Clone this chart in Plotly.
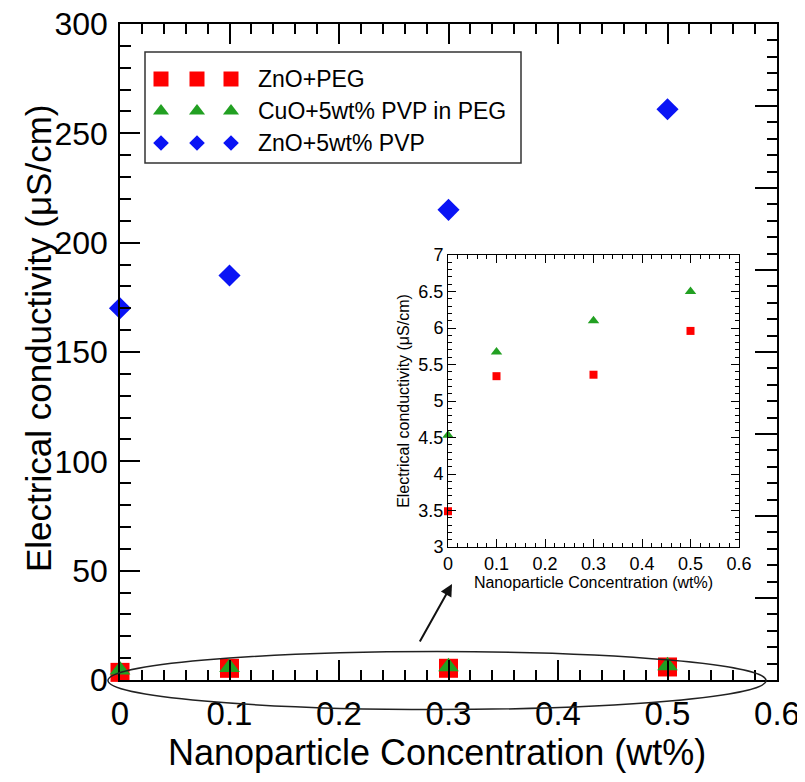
import plotly.graph_objects as go

# ---------------- data ----------------
conc = [0, 0.1, 0.3, 0.5]
zno_peg = [3.49, 5.34, 5.36, 5.96]
cuo_pvp_peg = [4.53, 5.67, 6.10, 6.50]
zno_pvp_conc = [0, 0.1, 0.3, 0.5]
zno_pvp = [170, 185, 215, 261]

series_names = ["ZnO+PEG", "CuO+5wt% PVP in PEG", "ZnO+5wt% PVP"]

main_x_ticks = [0, 0.1, 0.2, 0.3, 0.4, 0.5, 0.6]
main_y_ticks = [0, 50, 100, 150, 200, 250, 300]

# ---------------- styles / geometry ----------------
RED = "#ff0000"
GREEN = "#22a022"
BLUE = "#0a14f5"
FONT = "Liberation Sans, Arial, sans-serif"

OFF = 8  # page body margin in the browser
W_FIG, H_FIG = 797, 766
L, T, PW, PH = 120, 24, 657, 656  # plot area in screen pixels


def paper(px, py):
    return (px - L) / PW, (T + PH - py) / PH


XR = [0, 0.6]
YR = [0, 300]

fig = go.Figure()

# main plot markers
fig.add_trace(go.Scatter(x=conc, y=zno_peg, mode="markers", name=series_names[0],
                         marker=dict(symbol="square", size=19, color=RED),
                         cliponaxis=False, showlegend=False))
fig.add_trace(go.Scatter(x=conc, y=cuo_pvp_peg, mode="markers", name=series_names[1],
                         marker=dict(symbol="triangle-up", size=18, color=GREEN),
                         cliponaxis=False, showlegend=False))
fig.add_trace(go.Scatter(x=zno_pvp_conc, y=zno_pvp, mode="markers", name=series_names[2],
                         marker=dict(symbol="diamond", size=17, color=BLUE),
                         cliponaxis=False, showlegend=False))
# dummy for right axis
fig.add_trace(go.Scatter(x=[], y=[], yaxis="y2", showlegend=False))

# inset
fig.add_trace(go.Scatter(x=conc, y=zno_peg, mode="markers", xaxis="x3", yaxis="y3",
                         marker=dict(symbol="square", size=8, color=RED),
                         cliponaxis=False, showlegend=False))
fig.add_trace(go.Scatter(x=conc, y=cuo_pvp_peg, mode="markers", xaxis="x3", yaxis="y3",
                         marker=dict(symbol="triangle-up", size=10, color=GREEN),
                         cliponaxis=False, showlegend=False))

# custom legend (three symbols per entry) on an overlay axis spanning the paper
leg_rows_py = [79, 111, 143]
leg_cols_px = [161, 197, 231]
leg_symbols = [("square", 15, RED), ("triangle-up", 14, GREEN), ("diamond", 12, BLUE)]
for (sym, sz, col), py in zip(leg_symbols, leg_rows_py):
    xs = [paper(px, py)[0] for px in leg_cols_px]
    ys = [paper(px, py)[1] for px in leg_cols_px]
    fig.add_trace(go.Scatter(x=xs, y=ys, mode="markers", xaxis="x4", yaxis="y4",
                             marker=dict(symbol=sym, size=sz, color=col),
                             cliponaxis=False, showlegend=False, hoverinfo="skip"))

annotations = []
for name, py in zip(series_names, leg_rows_py):
    xp, yp = paper(256, py)
    annotations.append(dict(x=xp, y=yp, xref="paper", yref="paper", text=name,
                            showarrow=False, xanchor="left", yanchor="middle",
                            font=dict(family=FONT, size=23, color="black")))

# legend box
bx0, by0 = paper(145, 163)
bx1, by1 = paper(521, 52)
shapes = [dict(type="rect", xref="paper", yref="paper", x0=bx0, y0=by0, x1=bx1, y1=by1,
               line=dict(color="#333333", width=1.5), layer="above")]

# ellipse around the low values (defined in data units, drawn in domain coords)
ell_x = [-0.011, 0.59]
ell_y = [-13.5, 13]
shapes.append(dict(type="circle", xref="x domain", yref="y domain",
                   x0=(ell_x[0] - XR[0]) / (XR[1] - XR[0]),
                   x1=(ell_x[1] - XR[0]) / (XR[1] - XR[0]),
                   y0=(ell_y[0] - YR[0]) / (YR[1] - YR[0]),
                   y1=(ell_y[1] - YR[0]) / (YR[1] - YR[0]),
                   line=dict(color="#222222", width=1.5), layer="above"))

# arrow
hx, hy = paper(452, 584)
annotations.append(dict(x=hx, y=hy, xref="paper", yref="paper", ax=-33, ay=59,
                        axref="pixel", ayref="pixel", text="", showarrow=True,
                        arrowhead=2, arrowsize=1.2, arrowwidth=2, arrowcolor="#111111"))

# main axis titles
tx, ty = paper(437, 752)
annotations.append(dict(x=tx, y=ty, xref="paper", yref="paper",
                        text="Nanoparticle Concentration (wt%)", showarrow=False,
                        xanchor="center", yanchor="middle",
                        font=dict(family=FONT, size=36, color="black")))
tx, ty = paper(38, 338)
annotations.append(dict(x=tx, y=ty, xref="paper", yref="paper",
                        text="Electrical conductivity (\u03bcS/cm)", showarrow=False,
                        textangle=-90, xanchor="center", yanchor="middle",
                        font=dict(family=FONT, size=35, color="black")))

# inset domain
ix0, iy0 = paper(448, 547)
ix1, iy1 = paper(739, 255)

axis_common = dict(showgrid=False, zeroline=False, showline=True, linecolor="black",
                   tickcolor="black", ticks="inside", automargin=False,
                   ticklabeloverflow="allow")

fig.update_layout(
    width=W_FIG, height=H_FIG, autosize=False,
    margin=dict(l=L - OFF, r=W_FIG - (L - OFF) - PW, t=T - OFF,
                b=H_FIG - (T - OFF) - PH, pad=0),
    paper_bgcolor="white", plot_bgcolor="white",
    showlegend=False,
    font=dict(family=FONT, color="black"),
    xaxis=dict(range=XR, tickvals=main_x_ticks, ticktext=[f"{v:g}" for v in main_x_ticks],
               ticklen=20, tickwidth=1.5, linewidth=1.5, mirror="ticks",
               minor=dict(dtick=0.02, tick0=0, ticks="inside", ticklen=10, tickwidth=1.5,
                          tickcolor="black", showgrid=False),
               tickfont=dict(size=33), ticklabelstandoff=4, **axis_common),
    yaxis=dict(range=YR, tickvals=main_y_ticks, ticktext=[f"{v:g}" for v in main_y_ticks],
               ticklen=20, tickwidth=1.5, linewidth=1.5,
               minor=dict(dtick=10, tick0=0, ticks="inside", ticklen=11, tickwidth=1.5,
                          tickcolor="black", showgrid=False),
               tickfont=dict(size=32), ticklabelstandoff=4, **axis_common),
    yaxis2=dict(overlaying="y", side="right", anchor="x", range=[0, 40], dtick=5,
                ticklen=22, tickwidth=1.5, linewidth=1.5, showticklabels=False,
                minor=dict(dtick=1, ticks="inside", ticklen=10, tickwidth=1.5,
                           tickcolor="black", showgrid=False),
                **axis_common),
    xaxis3=dict(domain=[ix0, ix1], anchor="y3", range=[0, 0.6], dtick=0.1, tick0=0,
                ticklen=8, tickwidth=1, linewidth=1, mirror="ticks",
                minor=dict(dtick=0.02, ticks="inside", ticklen=4, tickcolor="black",
                           showgrid=False),
                tickfont=dict(size=18),
                title=dict(text="Nanoparticle Concentration (wt%)", font=dict(size=16),
                           standoff=4),
                **axis_common),
    yaxis3=dict(domain=[iy0, iy1], anchor="x3", range=[3, 7], dtick=0.5, tick0=3,
                ticklen=8, tickwidth=1, linewidth=1, mirror="ticks",
                minor=dict(dtick=0.1, ticks="inside", ticklen=4, tickcolor="black",
                           showgrid=False),
                tickfont=dict(size=18),
                title=dict(text="Electrical conductivity (\u03bcS/cm)", font=dict(size=16),
                           standoff=4),
                **axis_common),
    xaxis4=dict(domain=[0, 1], range=[0, 1], anchor="y4", overlaying="x", visible=False,
                fixedrange=True, automargin=False),
    yaxis4=dict(domain=[0, 1], range=[0, 1], anchor="x4", overlaying="y", visible=False,
                fixedrange=True, automargin=False),
    annotations=annotations,
    shapes=shapes,
)

fig.write_html("out.html")
